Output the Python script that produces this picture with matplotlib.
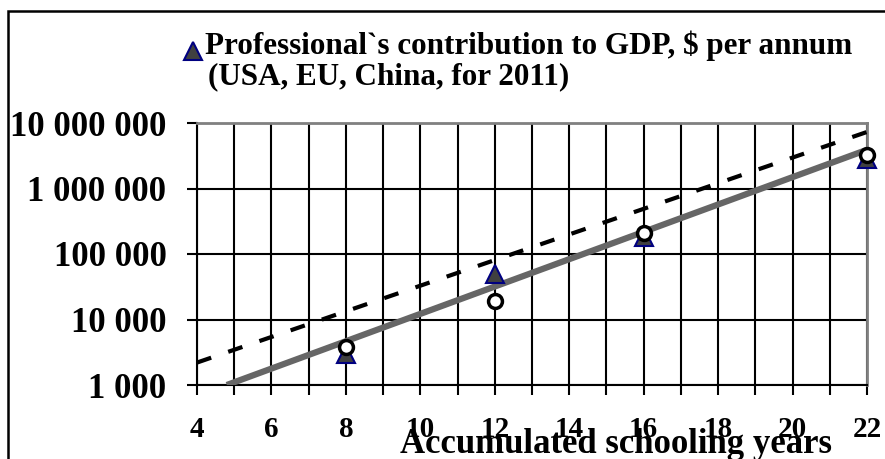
import matplotlib
matplotlib.use("Agg")
import matplotlib.pyplot as plt
from matplotlib.patches import Rectangle
from matplotlib.ticker import FixedLocator, FixedFormatter, NullLocator

# ---- data ----
years = [8, 12, 16, 22]
gdp_contribution = [3000, 50000, 180000, 2800000]      # triangles
observed_values = [3800, 19000, 210000, 3300000]       # open circles
trend_solid_x = [4.8, 22]
trend_solid_y = [1000, 3.9e6]
trend_dash_x = [4, 22]
trend_dash_y = [2200, 7.3e6]
x_major = [4, 6, 8, 10, 12, 14, 16, 18, 20, 22]
x_minor = [5, 7, 9, 11, 13, 15, 17, 19, 21]
y_ticks = [1e3, 1e4, 1e5, 1e6, 1e7]
y_tick_labels = ["1 000", "10 000", "100 000", "1 000 000", "10 000 000"]
legend_line1 = "Professional`s contribution to GDP, $ per annum"
legend_line2 = "(USA, EU, China, for 2011)"
x_label = "Accumulated schooling years"

plt.rcParams['font.family'] = ['Liberation Serif', 'DejaVu Serif']
plt.rcParams['font.weight'] = 'bold'

fig = plt.figure(figsize=(8.85, 4.59), dpi=100)
W, H = 885, 459
ax = fig.add_axes([197 / W, 1 - 385 / H, (867 - 197) / W, (385 - 123) / H])

ax.set_yscale('log')
ax.set_xlim(4, 22)
ax.set_ylim(1e3, 1e7)

ax.xaxis.set_major_locator(FixedLocator(x_major))
ax.xaxis.set_minor_locator(FixedLocator(x_minor))
ax.yaxis.set_major_locator(FixedLocator(y_ticks))
ax.yaxis.set_major_formatter(FixedFormatter(y_tick_labels))
ax.yaxis.set_minor_locator(NullLocator())

ax.grid(True, which='both', color='black', linewidth=1.5)
ax.set_axisbelow(True)
ax.tick_params(axis='both', which='both', direction='out', length=7.5, width=1.5, color='black')
ax.tick_params(axis='x', which='major', labelsize=21, pad=15)
ax.tick_params(axis='y', which='major', labelsize=25, pad=14.5)
for lab in ax.get_xticklabels() + ax.get_yticklabels():
    lab.set_fontweight('bold')

for s in ['left', 'bottom']:
    ax.spines[s].set_color('black')
    ax.spines[s].set_linewidth(1.5)
for s in ['top', 'right']:
    ax.spines[s].set_color('#808080')
    ax.spines[s].set_linewidth(2)

# trend lines
ax.plot(trend_solid_x, trend_solid_y, color='#666666', linewidth=4.5, solid_capstyle='butt', zorder=3)
lw_d = 3.0
ax.plot(trend_dash_x, trend_dash_y, color='black', linewidth=lw_d,
        dashes=(15 * 0.72 / lw_d, 18 * 0.72 / lw_d), zorder=3)

# markers
tri = ax.plot(years, gdp_contribution, linestyle='none', marker='^', markersize=13,
              markerfacecolor='#404040', markeredgecolor='#000080', markeredgewidth=1.5,
              clip_on=False, zorder=4)[0]
ax.plot(years, observed_values, linestyle='none', marker='o', markersize=10,
        markerfacecolor='white', markeredgecolor='black', markeredgewidth=2.5,
        clip_on=False, zorder=5)

# x label
ax.set_xlabel(x_label, fontsize=25, fontweight='bold')
ax.xaxis.set_label_coords((616 - 197) / (867 - 197), (385 - 453) / (385 - 123))
ax.xaxis.label.set_va('baseline')

# legend handle (triangle) and two-line caption
ax.legend(handles=[tri], labels=[''], loc='center',
          bbox_to_anchor=(193 / W, 1 - 52 / H), bbox_transform=fig.transFigure,
          frameon=False, borderpad=0, handletextpad=0, handlelength=1.0)
fig.text(205 / W, 1 - 46 / H, legend_line1, fontsize=22.4, fontweight='bold',
         ha='left', va='center')
fig.text(208 / W, 1 - 77 / H, legend_line2, fontsize=22.4, fontweight='bold',
         ha='left', va='center')

# outer frame
fig.patches.append(Rectangle((8 / W, -0.5), 3.0, 1.5 - 11 / H, transform=fig.transFigure,
                             fill=False, edgecolor='black', linewidth=1.8, clip_on=False))

fig.savefig('out.png', dpi=100)
